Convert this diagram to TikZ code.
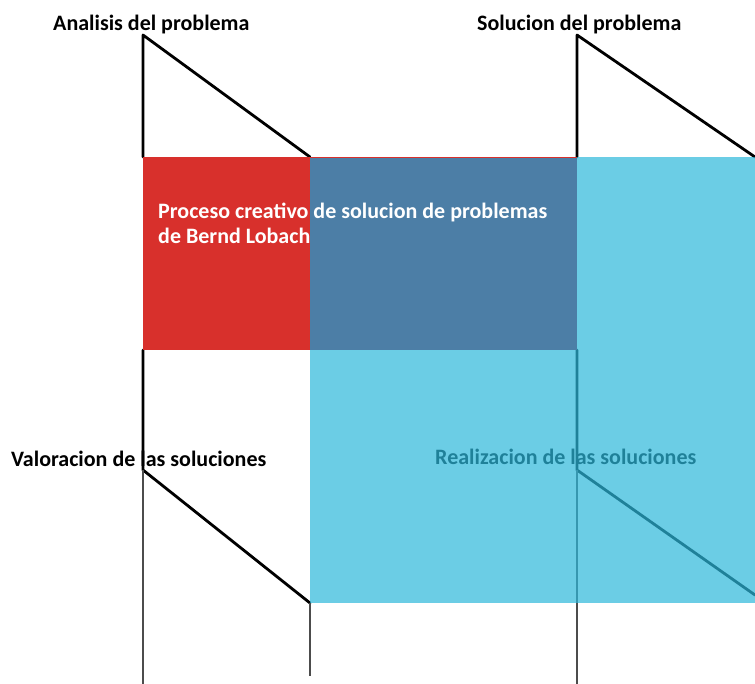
\documentclass[tikz,border=0pt]{standalone}
\usepackage{fontspec}
\setmainfont{Carlito}
\definecolor{phasered}{RGB}{216,48,44}
\definecolor{phasesteel}{RGB}{76,126,166}
\definecolor{phasecyan}{RGB}{45,184,219}
\begin{document}
\begin{tikzpicture}[x=1pt,y=-1pt,
  heavy/.style={line width=2.8pt, black, line cap=round, line join=round},
  fine/.style={line width=1.3pt, black!70},
  lbl/.style={font=\bfseries\fontsize{22}{26}\selectfont, inner sep=0pt, anchor=base west},
]
\useasboundingbox (0,0) rectangle (755,684);
\fill[white] (0,0) rectangle (755,684);

% key points of the two phase columns
\coordinate (a1) at (143,35);   \coordinate (a2) at (143,157);  \coordinate (a3) at (310,157);
\coordinate (b1) at (577,35);   \coordinate (b2) at (577,157);  \coordinate (b3) at (755,157);
\coordinate (c1) at (143,350);  \coordinate (c2) at (143,470);  \coordinate (c3) at (310,603);
\coordinate (c4) at (143,684);  \coordinate (c5) at (310,676);
\coordinate (d1) at (577,350);  \coordinate (d2) at (577,470);  \coordinate (d3) at (755,595);
\coordinate (d4) at (577,684);

% labels
\node[lbl] (analisis) at (53,31) {Analisis del problema};
\node[lbl] (solucion) at (477,31) {Solucion del problema};
\node[lbl] (valoracion) at (11,466) {Valoracion de las soluciones};
\node[lbl] (realizacion) at (435,464) {Realizacion de las soluciones};

% phase outlines
\draw[heavy] (a2) -- (a1) -- (a3);
\draw[heavy] (b2) -- (b1) -- (b3);
\draw[heavy] (c1) -- (c2) -- (c3);
\draw[heavy] (d1) -- (d2) -- (d3);
\draw[fine] (c2) -- (c4);
\draw[fine] (c3) -- (c5);
\draw[fine] (d2) -- (d4);

% coloured blocks
\fill[phasecyan, fill opacity=0.7] (310,157) rectangle (755,603);
\fill[phasesteel] (310,157) rectangle (577,350);
\fill[phasered] (143,157) rectangle (310,350);
\draw[phasered, line width=0.8pt] (310,157) -- (577,157);

\node[lbl, white] (proceso) at (158,219) {Proceso creativo de solucion de problemas};
\node[lbl, white] (autor) at (158,244) {de Bernd Lobach};
\end{tikzpicture}
\end{document}
